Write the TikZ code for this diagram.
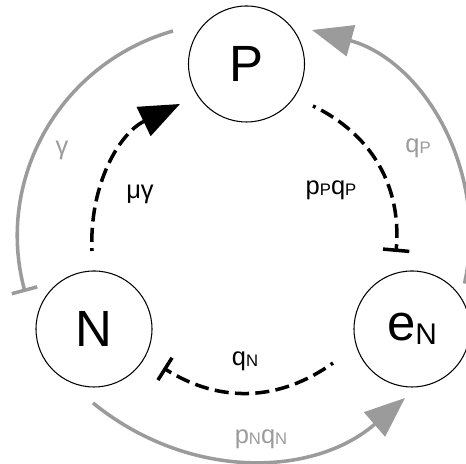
\documentclass[tikz,border=0pt]{standalone}
\usepackage{fontspec}
\setmainfont{Liberation Sans}
\usetikzlibrary{arrows.meta}
\definecolor{linkgrey}{HTML}{9B9B9B}
\newcommand{\lsub}[1]{\raisebox{-0.6pt}{\fontsize{9.5}{11}\selectfont #1}}
\newcommand{\bsub}[1]{\raisebox{-2pt}{\fontsize{17}{20}\selectfont #1}}
\tikzset{
  pop/.style={circle, draw=black, line width=0.6pt, minimum size=23.2mm,
              inner sep=0pt, font=\fontsize{29}{34}\selectfont},
  outer/.style={line width=2pt, draw=linkgrey},
  inner/.style={line width=2pt, draw=black,
                dash pattern=on 8pt off 3.6pt, dash phase=6.4pt},
  lab/.style={font=\fontsize{14.5}{17}\selectfont, inner sep=0pt},
  glab/.style={lab, text=linkgrey},
  act/.style={-{Triangle[length=23pt, width=18pt]}},
  inh/.style={-{Bar[width=15pt]}}
}

\begin{document}
\begin{tikzpicture}
  \useasboundingbox (0,0) rectangle (9.32,9.28);
  \clip (0,0) rectangle (9.32,9.28);
  \node[pop] (P)  at (4.93, 8.00) {P};
  \node[pop] (N)  at (1.88, 2.70) {N};
  \node[pop] (eN) at (8.24, 2.70) {e\bsub{N}};
  \coordinate (gamS) at (3.46, 8.66);
  \coordinate (gamE) at (0.50, 3.44);
  \coordinate (qpS)  at (9.29, 3.61);
  \coordinate (qpE)  at (6.24, 8.68);
  \coordinate (pnS)  at (1.86, 1.22);
  \coordinate (pnE)  at (8.10, 1.32);
  \coordinate (muS)  at (1.84, 4.26);
  \coordinate (muE)  at (3.60, 7.20);
  \coordinate (ppS)  at (6.26, 7.16);
  \coordinate (ppE)  at (7.92, 4.24);
  \coordinate (qnS)  at (6.66, 2.02);
  \coordinate (qnE)  at (3.27, 1.92);
  \draw[outer, inh] (gamS) to[bend right=44.5] (gamE);
  \draw[outer, -{Triangle[length=23pt, width=18pt, fill=linkgrey]}] (qpS) to[bend right=43.5] (qpE);
  \draw[outer, -{Triangle[length=23pt, width=18pt, fill=linkgrey]}] (pnS) to[bend right=40] (pnE);
  \draw[inner, act] (muS) to[bend left=33.4] (muE);
  \draw[inner, inh] (ppS) to[bend left=34.7] (ppE);
  \draw[inner, inh] (qnS) to[bend left=34] (qnE);
  \node[glab] (gamL) at (1.24, 6.28) {γ};
  \node[lab]  (muL)  at (2.80, 5.40) {μγ};
  \node[lab]  (ppL)  at (6.62, 5.48) {p\lsub{P}q\lsub{P}};
  \node[glab] (qpL)  at (8.36, 6.32) {q\lsub{P}};
  \node[lab]  (qnL)  at (4.90, 2.06) {q\lsub{N}};
  \node[glab] (pnL)  at (5.22, 0.50) {p\lsub{N}q\lsub{N}};
\end{tikzpicture}
\end{document}
